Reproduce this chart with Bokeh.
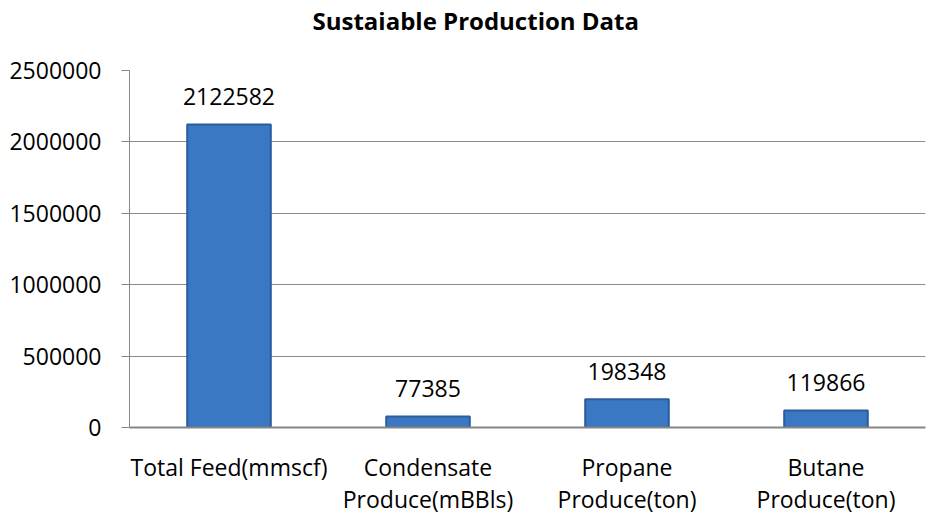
from bokeh.plotting import figure
from bokeh.models import ColumnDataSource, LabelSet, FixedTicker, NumeralTickFormatter, Range1d
from bokeh.core.properties import value
from bokeh.embed import file_html
from bokeh.resources import INLINE

categories = ["Total Feed(mmscf)", "Condensate\nProduce(mBBls)", "Propane\nProduce(ton)", "Butane\nProduce(ton)"]
values = [2122582, 77385, 198348, 119866]
value_labels = ["2122582", "77385", "198348", "119866"]
y_ticks = [0, 500000, 1000000, 1500000, 2000000, 2500000]
title_text = "Sustaiable Production Data"

FONT = "Open Sans"

src = ColumnDataSource(data=dict(cat=categories, val=values, lab=value_labels))

p = figure(x_range=categories, y_range=Range1d(0, 2500000), width=935, height=517,
           output_backend="svg", toolbar_location=None,
           min_border_left=129, min_border_right=10, min_border_top=70, min_border_bottom=88)
p.outline_line_color = None

# trailing blank line lifts the title away from the plot frame
p.title.text = title_text + "\n"
p.title.align = "left"
p.title.offset = 183
p.title.standoff = 1
p.title.text_line_height = 1.0
p.title.text_font = FONT
p.title.text_font_size = "24px"
p.title.text_font_style = "bold"
p.title.text_color = "#000000"

p.vbar(x="cat", top="val", width=0.42, source=src, fill_color="#3A78C4",
       line_color="#2B5C9C", line_width=2)

labels = LabelSet(x="cat", y="val", text="lab", source=src, text_align="center",
                  text_baseline="alphabetic", y_offset=19, text_font_size="23px",
                  text_color="#000000", text_font=value(FONT))
p.add_layout(labels)

p.yaxis.ticker = FixedTicker(ticks=y_ticks)
p.yaxis.formatter = NumeralTickFormatter(format="0")
p.yaxis.major_label_text_font = FONT
p.yaxis.major_label_text_font_size = "23px"
p.yaxis.major_label_text_color = "#000000"
p.yaxis.axis_line_color = "#868686"
p.yaxis.major_tick_line_color = "#868686"
p.yaxis.major_tick_in = 0
p.yaxis.major_tick_out = 8
p.yaxis.minor_tick_line_color = None
p.yaxis.major_label_standoff = 20

p.xaxis.major_label_text_font = FONT
p.xaxis.major_label_text_font_size = "23px"
p.xaxis.major_label_text_line_height = 1.0
p.xaxis.major_label_text_color = "#000000"
p.xaxis.axis_line_color = "#868686"
p.xaxis.axis_line_width = 2
p.xaxis.major_tick_line_color = None
p.xaxis.major_label_standoff = 17

p.xgrid.grid_line_color = None
p.ygrid.grid_line_color = "#8C8C8C"
p.ygrid.grid_line_width = 1

open("out.html", "w").write(file_html(p, INLINE))
